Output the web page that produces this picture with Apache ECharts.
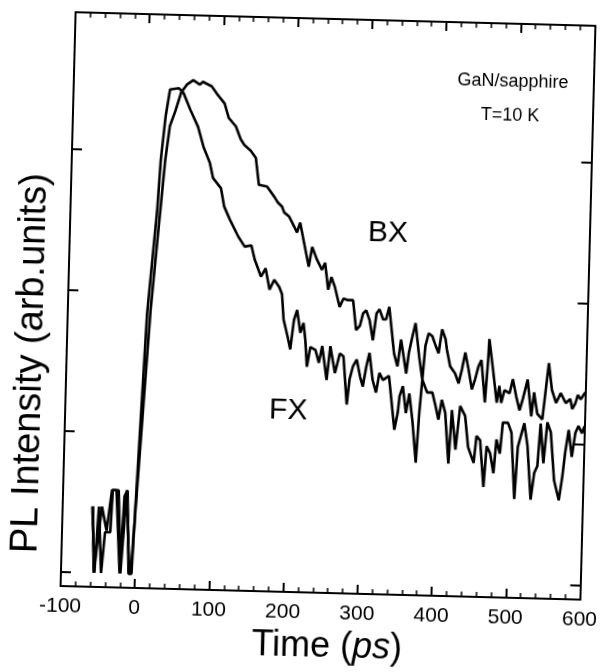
<!DOCTYPE html>
<html><head><meta charset="utf-8">
<script src="https://cdn.jsdelivr.net/npm/echarts@6/dist/echarts.min.js"></script>
<style>
html,body{margin:0;padding:0;background:#fff;overflow:hidden}
#chart{width:608px;height:672px;transform:rotate(1.5deg);transform-origin:331px 306px;}
</style>
</head><body><div id="chart"></div>
<script>
// ---- data ----
const xTicks = [-100, 0, 100, 200, 300, 400, 500, 600];
const yTicks = [0, 1, 2, 3];

const fxTime = [-60,-55,-51,-46,-42,-35,-33,-25,-20,-14,-8,-5,7,17,20,25,30,42,48,58,69,77,86,91,102,107,115,127,136,145,150,159,165,171,177,184,188,191,197,201,205,209,214,218,221,224,228,235,240,244,251,255,262,268,273,279,282,286,291,296,300,304,308,313,318,322,327,335,344,348,350,354,359,363,368,374,377,380,387,394,399,403,407,412,418,421,427,432,439,444,452,455,460,466,469,474,479,482,487,490,497,502,508,511,519,524,530,534,538,541,546,550,555,561,568,572,575,579,584,588,592,597,600];
const fxIntensity = [0.47,0.0,0.47,0.0,0.29,0.29,0.59,0.59,0.0,0.59,0.0,0.0,1.85,2.59,2.94,3.25,3.44,3.45,3.42,3.30,3.18,3.04,2.93,2.82,2.75,2.62,2.53,2.41,2.34,2.35,2.25,2.13,2.19,2.04,2.11,2.06,2.01,1.83,1.71,1.62,1.83,1.90,1.74,1.81,1.69,1.50,1.64,1.62,1.53,1.65,1.41,1.65,1.46,1.60,1.58,1.24,1.42,1.51,1.56,1.44,1.37,1.51,1.61,1.42,1.33,1.47,1.42,1.45,1.07,1.19,1.31,1.38,1.19,1.33,1.14,0.84,1.19,1.43,1.34,1.34,1.24,1.15,1.29,1.20,0.84,1.22,0.94,1.25,1.18,0.96,0.85,1.04,1.01,0.68,0.97,0.92,0.78,1.02,0.92,1.14,1.14,1.07,0.60,0.97,1.14,0.98,0.60,0.79,0.84,1.14,0.86,1.15,1.08,0.74,0.60,0.77,0.94,1.10,0.91,1.08,1.13,1.08,1.13];

const bxTime = [-59,-56,-47,-40,-34,-28,-21,-17,-13,-9,-6,11.5,19.6,26,31,38,45,53,61,70,74,86,93,104,110,120,127,132,141,148,153,164,174,179,185,188,195,202,206,210,215,223,227,234,241,245,250,254,259,266,271,277,284,289,294,298,302,307,312,316,320,325,329,333,341,346,350,358,361,365,369,375,380,383,387,392,397,401,405,410,412,417,424,429,433,437,442,447,451,455,459,465,468,469,475,481,484,487,491,498,502,507,512,516,522,528,531,536,543,547,550,555,561,567,574,580,583,587,590,594,600];
const bxIntensity = [0.47,0.0,0.47,0.30,0.59,0.59,0.0,0.55,0.59,0.0,0.0,1.87,2.47,2.94,3.18,3.29,3.42,3.48,3.51,3.48,3.50,3.47,3.42,3.35,3.25,3.19,3.10,3.06,3.02,2.97,2.78,2.77,2.70,2.66,2.63,2.59,2.56,2.49,2.45,2.52,2.40,2.21,2.35,2.26,2.19,2.24,2.05,2.14,2.07,1.93,1.99,1.98,1.98,1.77,1.80,1.89,1.91,1.84,1.70,1.89,1.92,1.85,1.85,1.94,1.61,1.52,1.71,1.47,1.62,1.73,1.83,1.59,1.43,1.67,1.76,1.74,1.67,1.62,1.79,1.72,1.65,1.53,1.48,1.41,1.51,1.63,1.51,1.37,1.44,1.53,1.58,1.28,1.58,1.73,1.51,1.28,1.40,1.28,1.37,1.35,1.45,1.33,1.23,1.31,1.45,1.19,1.36,1.21,1.17,1.40,1.57,1.38,1.29,1.36,1.29,1.32,1.25,1.29,1.35,1.32,1.37];

const xTitle = 'Time ({i|ps})';
const yTitle = 'PL Intensity (arb.units)';
const notes = ['GaN/sapphire', 'T=10 K', 'BX', 'FX'];

// ---- chart ----
const FONT = '"Liberation Sans", Arial, sans-serif';
const pairs = (t, v) => t.map((x, i) => [x, v[i]]);
const axisLine = {show: true, onZero: false, lineStyle: {color: '#000', width: 2}};

function xAx(pos, labels) {
  return {
    type: 'value', position: pos, min: -100, max: 600, interval: 100,
    axisLine: axisLine,
    axisTick: {show: true, inside: true, length: 9, lineStyle: {color: '#000', width: 2}},
    minorTick: {show: true, splitNumber: 5, length: 5, lineStyle: {color: '#000', width: 1.5}},
    splitLine: {show: false}, minorSplitLine: {show: false},
    axisLabel: {show: labels, color: '#000', fontSize: 21, fontFamily: FONT, margin: 10},
    name: labels ? xTitle : '', nameLocation: 'middle', nameGap: 32,
    nameTextStyle: {color: '#000', fontSize: 36, fontFamily: FONT, padding: [0, 0, 0, 16],
      rich: {i: {fontStyle: 'italic', fontSize: 36, fontFamily: FONT, color: '#000'}}}
  };
}
function yAx(pos, withName) {
  return {
    type: 'value', position: pos, min: -0.1, max: 3.97,
    axisLine: axisLine,
    axisTick: {show: true, inside: true, length: 10, customValues: yTicks, lineStyle: {color: '#000', width: 2}},
    splitLine: {show: false},
    axisLabel: {show: false},
    name: withName ? yTitle : '', nameLocation: 'middle', nameGap: 16, nameRotate: 90,
    nameTextStyle: {color: '#000', fontSize: 38, fontFamily: FONT, padding: [0, 130, 0, 0]}
  };
}

const chart = echarts.init(document.getElementById('chart'), null, {renderer: 'canvas'});
chart.setOption({
  animation: false,
  backgroundColor: 'transparent',
  grid: {left: 68, right: 14, top: 19, bottom: 79, containLabel: false},
  xAxis: [xAx('bottom', true), xAx('top', false)],
  yAxis: [yAx('left', true), yAx('right', false)],
  series: [
    {name: 'FX', type: 'line', xAxisIndex: 0, yAxisIndex: 0, data: pairs(fxTime, fxIntensity),
      showSymbol: false, lineStyle: {color: '#000', width: 2.6}, z: 3},
    {name: 'BX', type: 'line', xAxisIndex: 0, yAxisIndex: 0, data: pairs(bxTime, bxIntensity),
      showSymbol: false, lineStyle: {color: '#000', width: 2.6}, z: 3}
  ],
  graphic: [
    {type: 'text', x: 507, y: 77, style: {text: notes[0], fontSize: 18, fontFamily: FONT, fill: '#000', align: 'center', verticalAlign: 'middle'}},
    {type: 'text', x: 505, y: 111, style: {text: notes[1], fontSize: 18, fontFamily: FONT, fill: '#000', align: 'center', verticalAlign: 'middle'}},
    {type: 'text', x: 386, y: 232, style: {text: notes[2], fontSize: 30, fontFamily: FONT, fill: '#000', align: 'center', verticalAlign: 'middle'}},
    {type: 'text', x: 291, y: 412, style: {text: notes[3], fontSize: 30, fontFamily: FONT, fill: '#000', align: 'center', verticalAlign: 'middle'}}
  ]
});
</script>
</body></html>
